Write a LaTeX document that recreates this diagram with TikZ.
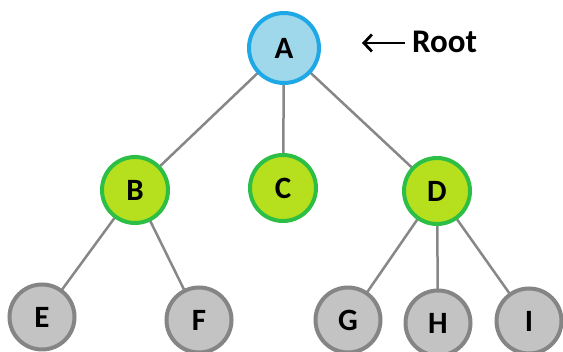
\documentclass[tikz,border=0pt]{standalone}
\usepackage{fontspec}
\setmainfont{Carlito}
\usetikzlibrary{arrows.meta}
\definecolor{edgegray}{HTML}{878787}
\definecolor{rootfill}{HTML}{9FD8EA}
\definecolor{rootline}{HTML}{1EA8E6}
\definecolor{midfill}{HTML}{B6E01E}
\definecolor{midline}{HTML}{2DBE46}
\definecolor{leaffill}{HTML}{C3C3C3}
\definecolor{leafline}{HTML}{858585}
\begin{document}
\begin{tikzpicture}[x=1pt,y=-1pt,
  tnode/.style={circle,minimum size=66pt,inner sep=0pt,line width=4pt,font=\fontsize{31}{31}\selectfont\bfseries},
  rootnode/.style={tnode,minimum size=70pt,draw=rootline,fill=rootfill},
  midnode/.style={tnode,draw=midline,fill=midfill},
  leafnode/.style={tnode,minimum size=65pt,draw=leafline,fill=leaffill},
  edge/.style={draw=edgegray,line width=2.5pt}]
\useasboundingbox (0,0) rectangle (563,352);
\coordinate (cA) at (284,48);
\coordinate (cB) at (135,190);
\coordinate (cC) at (283,188);
\coordinate (cD) at (437,191);
\coordinate (cE) at (42,317);
\coordinate (cF) at (199,320);
\coordinate (cG) at (348,320);
\coordinate (cH) at (438,323);
\coordinate (cI) at (529,321);
\draw[edge] (cA) -- (cB);
\draw[edge] (cA) -- (cC);
\draw[edge] (cA) -- (cD);
\draw[edge] (cB) -- (cE);
\draw[edge] (cB) -- (cF);
\draw[edge] (cD) -- (cG);
\draw[edge] (cD) -- (cH);
\draw[edge] (cD) -- (cI);
\node[rootnode] (A) at (cA) {A};
\node[midnode] (B) at (cB) {B};
\node[midnode] (C) at (cC) {C};
\node[midnode] (D) at (cD) {D};
\node[leafnode] (E) at (cE) {E};
\node[leafnode] (F) at (cF) {F};
\node[leafnode] (G) at (cG) {G};
\node[leafnode] (H) at (cH) {H};
\node[leafnode] (I) at (cI) {I};
\node[anchor=west,inner sep=0pt,font=\fontsize{33}{33}\selectfont\bfseries] (root) at (412,42) {Root};
\coordinate (arrend) at (362,43);
\draw[line width=2.8pt,-{Straight Barb[length=8pt,width=17pt,line width=2.8pt]}] ([xshift=-7pt,yshift=-1pt]root.west) -- (arrend);
\end{tikzpicture}
\end{document}
